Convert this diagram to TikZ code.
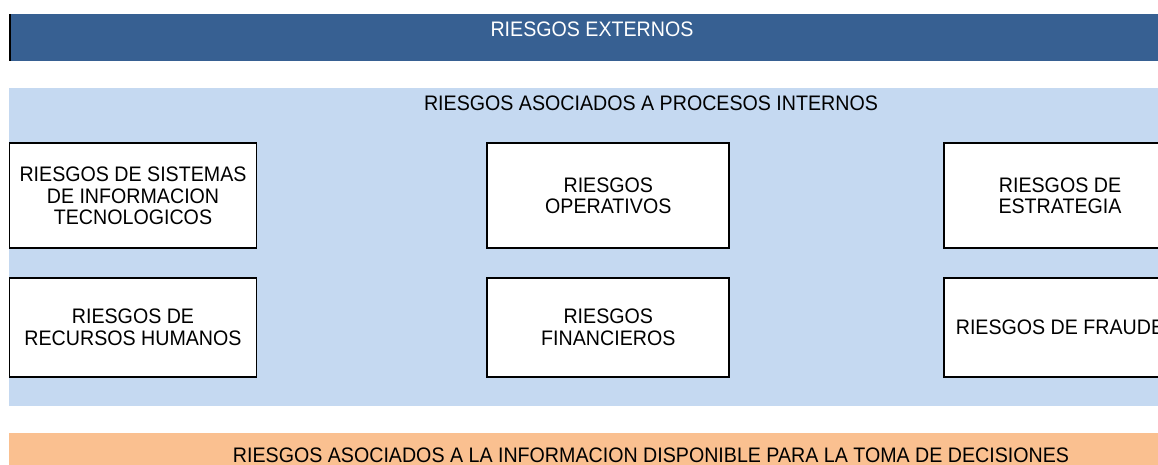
\documentclass[tikz,border=0pt]{standalone}
\usepackage{fontspec}
\setmainfont{Liberation Sans}[FakeStretch=0.935]
\usepackage{xcolor}
\usepackage{tikz}
\usetikzlibrary{positioning}

\definecolor{azuloscuro}{HTML}{376092}
\definecolor{azulclaro}{HTML}{C5D9F1}
\definecolor{naranja}{HTML}{FAC090}

\begin{document}
\begin{tikzpicture}[x=1pt, y=-1pt,
    riesgo/.style={draw=black, line width=1.8pt, fill=white, align=center, inner sep=0pt,
      font=\fontsize{21}{21.5}\selectfont},
    titulo/.style={anchor=base, inner sep=0pt, font=\fontsize{21}{21.5}\selectfont}]
    \useasboundingbox (0,0) rectangle (1158,465);
    \clip (0,0) rectangle (1158,465);
    \fill[white] (0,0) rectangle (1158,465);
    % bandas
    \fill[azuloscuro] (9,14) rectangle (1176,61);
    \fill[black] (9,14) rectangle (11,61);
    \fill[azulclaro] (9,88) rectangle (1293,406);
    \fill[naranja] (9,433) rectangle (1293,470);
    \node[titulo, white] (EXT) at (592,37) {RIESGOS EXTERNOS};
    \node[titulo] (INT) at (651,110.5) {RIESGOS ASOCIADOS A PROCESOS INTERNOS};
    \node[titulo] (INF) at (651,462.5) {RIESGOS ASOCIADOS A LA INFORMACION DISPONIBLE PARA LA TOMA DE DECISIONES};
    % cajas
    \node[riesgo, minimum width=247, minimum height=105] (SI) at (133,195.8) {RIESGOS DE SISTEMAS\\DE INFORMACION\\TECNOLOGICOS};
    \node[riesgo, minimum width=242, minimum height=105] (OP) at (608.3,195.8) {RIESGOS\\OPERATIVOS};
    \node[riesgo, minimum width=232, minimum height=105] (ES) at (1060,195.8) {RIESGOS DE\\ESTRATEGIA};
    \node[riesgo, minimum width=247, minimum height=99] (RH) at (133,327.2) {RIESGOS DE\\RECURSOS HUMANOS};
    \node[riesgo, minimum width=242, minimum height=99] (FI) at (608.3,327.2) {RIESGOS\\FINANCIEROS};
    \node[riesgo, minimum width=232, minimum height=99] (FR) at (1060,327.2) {RIESGOS DE FRAUDE};
  \end{tikzpicture}
\end{document}
